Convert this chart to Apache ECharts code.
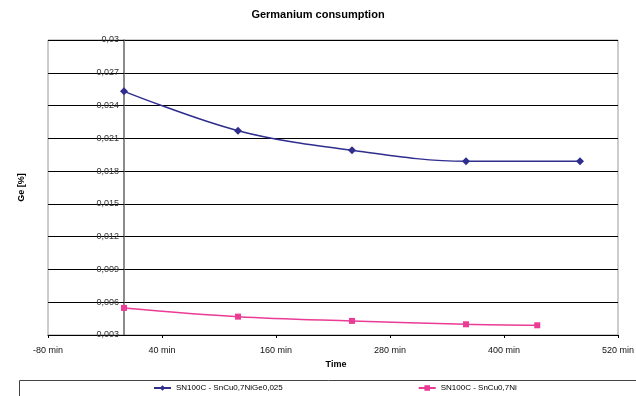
<!DOCTYPE html>
<html>
<head>
<meta charset="utf-8">
<script src="https://cdn.jsdelivr.net/npm/echarts@6/dist/echarts.min.js"></script>
<style>
html, body { margin: 0; padding: 0; background: #fff; }
#chart { width: 636px; height: 396px; }
</style>
</head>
<body>
<div id="chart"></div>
<script>
// time in minutes, Ge in %
var timeGe = [0, 120, 240, 360, 480];
var geWithGe = [0.0253, 0.0217, 0.0199, 0.0189, 0.0189];
var timeNi = [0, 120, 240, 360, 435];
var geWithoutGe = [0.00548, 0.00468, 0.00429, 0.00398, 0.00389];
var seriesNames = ["SN100C - SnCu0,7NiGe0,025", "SN100C - SnCu0,7Ni"];
var xMin = -80, xMax = 520, xStep = 120;
var yMin = 0.003, yMax = 0.03, yStep = 0.003;

function pairs(xs, ys) {
    return xs.map(function(x, i) { return [x, ys[i]]; });
}

var font = "Liberation Sans, Arial, sans-serif";
var chart = echarts.init(document.getElementById("chart"));
chart.setOption({
    animation: false,
    title: {
        text: "Germanium consumption",
        left: "center",
        top: 4,
        textStyle: { fontFamily: font, fontSize: 11, fontWeight: "bold", color: "#000" }
    },
    grid: {
        left: 48, right: 18, top: 40, bottom: 61,
        outerBoundsMode: "none",
        containLabel: false,
        show: true, borderColor: "#9a9a9a", borderWidth: 1
    },
    legend: {
        left: 153,
        top: 384,
        padding: 0,
        itemGap: 135,
        itemWidth: 17,
        itemHeight: 7,
        textStyle: { fontFamily: font, fontSize: 8, color: "#000" },
        data: seriesNames
    },
    graphic: [{
        type: "rect",
        shape: { x: 19.5, y: 380.5, width: 640, height: 30 },
        style: { fill: "none", stroke: "#444", lineWidth: 1 },
        z: -1
    }],
    xAxis: [{
        // visible axis: labels counted from -80
        type: "value",
        min: 0, max: xMax - xMin, interval: xStep,
        name: "Time",
        nameLocation: "middle",
        nameGap: 25,
        nameTextStyle: { fontFamily: font, fontSize: 9, fontWeight: "bold", color: "#000", padding: [0, 0, 0, 6] },
        axisLine: { onZero: false, lineStyle: { color: "#000", width: 1 } },
        axisTick: { show: true, length: 3, lineStyle: { color: "#000" } },
        axisLabel: {
            margin: 11, fontFamily: font, fontSize: 9, color: "#111",
            formatter: function(v) { return (v + xMin) + " min"; }
        },
        splitLine: { show: false }
    }, {
        // data axis in minutes
        type: "value",
        min: xMin, max: xMax,
        position: "bottom",
        show: false
    }],
    yAxis: {
        type: "value",
        min: yMin, max: yMax, interval: yStep,
        offset: -76,
        name: "Ge [%]",
        nameLocation: "middle",
        nameGap: 98,
        nameRotate: 90,
        nameTextStyle: { fontFamily: font, fontSize: 9, fontWeight: "bold", color: "#000" },
        axisLine: { show: true, onZero: false, lineStyle: { color: "#666", width: 1.5 } },
        axisTick: { show: true, length: 3, lineStyle: { color: "#000" } },
        axisLabel: {
            margin: 5, fontFamily: font, fontSize: 9, color: "#333",
            formatter: function(v) {
                return String(parseFloat(v.toFixed(4))).replace(".", ",");
            }
        },
        splitLine: { show: true, lineStyle: { color: "#000", width: 1 } }
    },
    series: [{
        name: seriesNames[0],
        type: "line",
        xAxisIndex: 1,
        smooth: 0.35,
        data: pairs(timeGe, geWithGe),
        symbol: "diamond",
        symbolSize: 8,
        itemStyle: { color: "#2f2d8e" },
        lineStyle: { color: "#2f2d8e", width: 1.5 }
    }, {
        name: seriesNames[1],
        type: "line",
        xAxisIndex: 1,
        smooth: 0.35,
        data: pairs(timeNi, geWithoutGe),
        symbol: "rect",
        symbolSize: 6,
        itemStyle: { color: "#ea3b95" },
        lineStyle: { color: "#ea3b95", width: 1.5 }
    }]
});
</script>
</body>
</html>
